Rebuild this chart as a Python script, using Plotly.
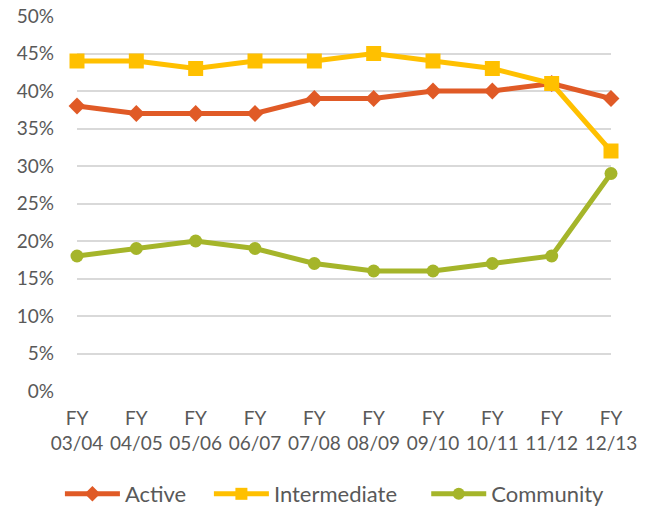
import plotly.graph_objects as go

categories = ["FY<br>03/04", "FY<br>04/05", "FY<br>05/06", "FY<br>06/07", "FY<br>07/08",
              "FY<br>08/09", "FY<br>09/10", "FY<br>10/11", "FY<br>11/12", "FY<br>12/13"]
active = [0.38, 0.37, 0.37, 0.37, 0.39, 0.39, 0.40, 0.40, 0.41, 0.39]
intermediate = [0.44, 0.44, 0.43, 0.44, 0.44, 0.45, 0.44, 0.43, 0.41, 0.32]
community = [0.18, 0.19, 0.20, 0.19, 0.17, 0.16, 0.16, 0.17, 0.18, 0.29]

FONT = "Lato, Open Sans, sans-serif"
GREY = "#595959"

fig = go.Figure()
fig.add_trace(go.Scatter(x=categories, y=active, name="Active", mode="lines+markers",
                         line=dict(color="#E05A26", width=5), legend="legend", cliponaxis=False,
                         marker=dict(symbol="diamond", size=13, color="#E05A26")))
fig.add_trace(go.Scatter(x=categories, y=intermediate, name="Intermediate", mode="lines+markers",
                         line=dict(color="#FFC000", width=5), legend="legend2", cliponaxis=False,
                         marker=dict(symbol="square", size=15, color="#FFC000")))
fig.add_trace(go.Scatter(x=categories, y=community, name="Community", mode="lines+markers",
                         line=dict(color="#A5B52A", width=5), legend="legend3", cliponaxis=False,
                         marker=dict(symbol="circle", size=13, color="#A5B52A")))

leg_common = dict(orientation="h", xanchor="left", y=-0.2747, yanchor="middle",
                  font=dict(family=FONT, size=22, color=GREY), itemwidth=55,
                  itemsizing="constant", bgcolor="rgba(0,0,0,0)")

fig.update_layout(
    width=649, height=508,
    margin=dict(l=77, r=38, t=16, b=117, autoexpand=False),
    plot_bgcolor="white", paper_bgcolor="white",
    font=dict(family=FONT, size=18, color=GREY),
    showlegend=True,
    legend=dict(x=-0.032, **leg_common),
    legend2=dict(x=0.247, **leg_common),
    legend3=dict(x=0.654, **leg_common),
    xaxis=dict(range=[0, 9], showgrid=False, zeroline=False, showline=False, automargin=False,
               ticks="", ticklabelstandoff=14, tickfont=dict(size=19, color=GREY), fixedrange=True),
    yaxis=dict(range=[0, 0.5], dtick=0.05, tickformat=".0%", showgrid=True, automargin=False,
               gridcolor="#D9D9D9", gridwidth=1.5, zeroline=False, showline=False,
               ticklabeloverflow="allow",
               ticks="", ticklabelstandoff=22, tickfont=dict(size=19, color=GREY)),
)

fig.write_html("out.html", post_script="document.body.style.margin='0';",
               config={"displayModeBar": False})
